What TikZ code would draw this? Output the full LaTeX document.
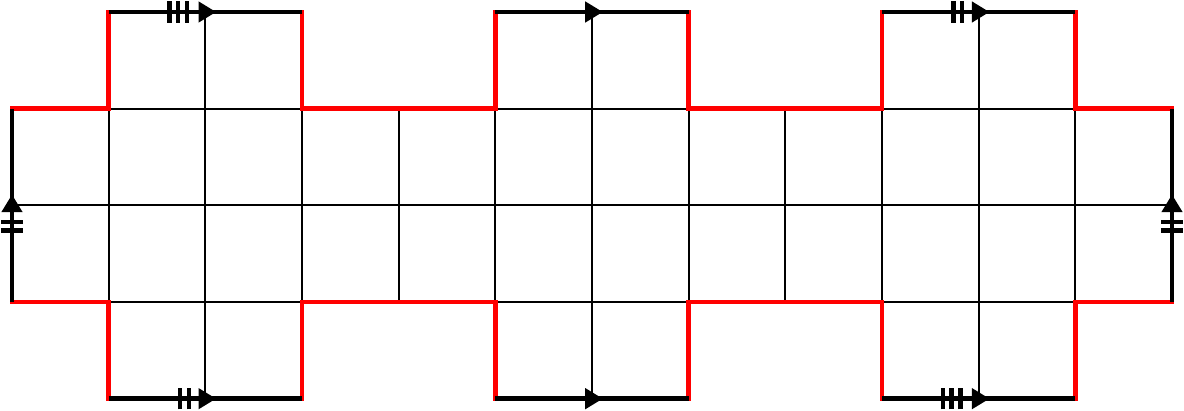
\documentclass[tikz,border=0pt]{standalone}
\usetikzlibrary{decorations.markings}
\tikzset{
  thin grid/.style={line width=0.6pt, black},
  redb/.style={line width=1.4pt, red, line cap=rect},
  edge0/.style={line width=1.4pt, black, postaction={decorate}, decoration={markings,
    mark=at position 0.5 with {\fill (0.11,0) -- (-0.07,0.11) -- (-0.07,-0.11) -- cycle;}}},
  edge2/.style={line width=1.4pt, black, postaction={decorate}, decoration={markings,
    mark=at position 0.5 with {\fill (0.11,0) -- (-0.07,0.11) -- (-0.07,-0.11) -- cycle;
      \draw[line width=1.3pt] (-0.26,-0.11) -- (-0.26,0.11) (-0.17,-0.11) -- (-0.17,0.11);}}},
  edge3/.style={line width=1.4pt, black, postaction={decorate}, decoration={markings,
    mark=at position 0.5 with {\fill (0.11,0) -- (-0.07,0.11) -- (-0.07,-0.11) -- cycle;
      \draw[line width=1.3pt] (-0.37,-0.11) -- (-0.37,0.11) (-0.28,-0.11) -- (-0.28,0.11) (-0.19,-0.11) -- (-0.19,0.11);}}},
}
\begin{document}
\begin{tikzpicture}[x=1cm,y=1cm]
\useasboundingbox (-0.124,-0.124) rectangle (12.124,4.124);
% thin grid
\foreach \y in {1,2,3} \draw[thin grid] (0,\y) -- (12,\y);
\foreach \x in {1,...,11} \draw[thin grid] (\x,1) -- (\x,3);
\foreach \x in {2,6,10} \draw[thin grid] (\x,0) -- (\x,4);
% red boundary
\draw[redb] (0,3) -- (1,3) -- (1,4);
\draw[redb] (3,4) -- (3,3) -- (5,3) -- (5,4);
\draw[redb] (7,4) -- (7,3) -- (9,3) -- (9,4);
\draw[redb] (11,4) -- (11,3) -- (12,3);
\draw[redb] (0,1) -- (1,1) -- (1,0);
\draw[redb] (3,0) -- (3,1) -- (5,1) -- (5,0);
\draw[redb] (7,0) -- (7,1) -- (9,1) -- (9,0);
\draw[redb] (11,0) -- (11,1) -- (12,1);
% identified edges
\draw[edge3] (1,4) -- (3,4);
\draw[edge0] (5,4) -- (7,4);
\draw[edge2] (9,4) -- (11,4);
\draw[edge2] (1,0) -- (3,0);
\draw[edge0] (5,0) -- (7,0);
\draw[edge3] (9,0) -- (11,0);
\draw[edge2] (0,1) -- (0,3);
\draw[edge2] (12,1) -- (12,3);
\end{tikzpicture}
\end{document}
